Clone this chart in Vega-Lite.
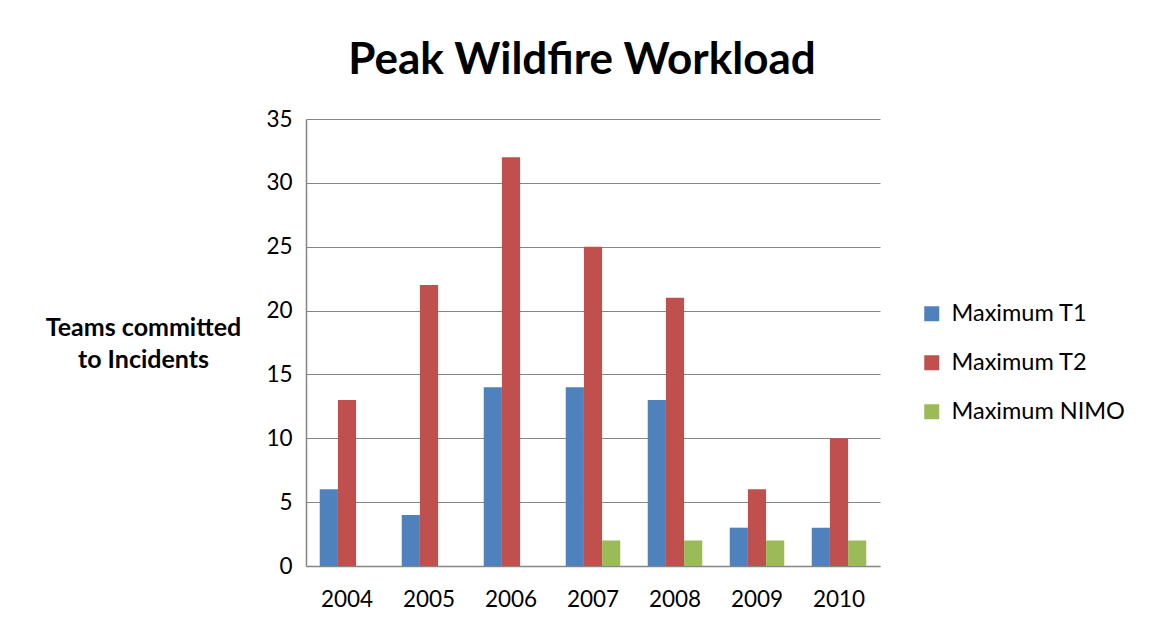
{
  "$schema": "https://vega.github.io/schema/vega-lite/v6.json",
  "autosize": "none",
  "width": 574,
  "height": 447,
  "padding": {"left": 306, "top": 119, "right": 271, "bottom": 64},
  "background": "white",
  "config": {
    "font": "Lato",
    "view": {"stroke": null},
    "axis": {"labelColor": "#000000", "titleColor": "#000000"}
  },
  "title": {
    "text": "Peak Wildfire Workload",
    "fontSize": 44,
    "fontWeight": "bold",
    "color": "#000000",
    "anchor": "middle",
    "dx": -11,
    "offset": 25
  },
  "data": {
    "values": [
      {"year": "2004", "series": "Maximum T1", "teams": 6},
      {"year": "2004", "series": "Maximum T2", "teams": 13},
      {"year": "2004", "series": "Maximum NIMO", "teams": 0},
      {"year": "2005", "series": "Maximum T1", "teams": 4},
      {"year": "2005", "series": "Maximum T2", "teams": 22},
      {"year": "2005", "series": "Maximum NIMO", "teams": 0},
      {"year": "2006", "series": "Maximum T1", "teams": 14},
      {"year": "2006", "series": "Maximum T2", "teams": 32},
      {"year": "2006", "series": "Maximum NIMO", "teams": 0},
      {"year": "2007", "series": "Maximum T1", "teams": 14},
      {"year": "2007", "series": "Maximum T2", "teams": 25},
      {"year": "2007", "series": "Maximum NIMO", "teams": 2},
      {"year": "2008", "series": "Maximum T1", "teams": 13},
      {"year": "2008", "series": "Maximum T2", "teams": 21},
      {"year": "2008", "series": "Maximum NIMO", "teams": 2},
      {"year": "2009", "series": "Maximum T1", "teams": 3},
      {"year": "2009", "series": "Maximum T2", "teams": 6},
      {"year": "2009", "series": "Maximum NIMO", "teams": 2},
      {"year": "2010", "series": "Maximum T1", "teams": 3},
      {"year": "2010", "series": "Maximum T2", "teams": 10},
      {"year": "2010", "series": "Maximum NIMO", "teams": 2}
    ]
  },
  "mark": {"type": "bar"},
  "encoding": {
    "x": {
      "field": "year",
      "type": "nominal",
      "scale": {"paddingInner": 0.335, "paddingOuter": 0.1675},
      "axis": {
        "title": null,
        "labelAngle": 0,
        "labelFontSize": 22.5,
        "labelPadding": 22,
        "ticks": false,
        "domainColor": "#868686",
        "domainWidth": 1.5
      }
    },
    "xOffset": {
      "field": "series",
      "type": "nominal",
      "sort": ["Maximum T1", "Maximum T2", "Maximum NIMO"],
      "scale": {"paddingInner": 0, "paddingOuter": 0}
    },
    "y": {
      "field": "teams",
      "type": "quantitative",
      "scale": {"domain": [0, 35], "nice": false},
      "axis": {
        "values": [0, 5, 10, 15, 20, 25, 30, 35],
        "title": ["Teams committed", "to Incidents"],
        "titleAngle": 0,
        "titleFontSize": 25,
        "titleFontWeight": "bold",
        "titleLineHeight": 32,
        "titleAlign": "center",
        "titleBaseline": "middle",
        "titleX": -163,
        "titleY": 208,
        "labelFontSize": 22.5,
        "labelPadding": 14,
        "ticks": false,
        "grid": true,
        "gridColor": "#868686",
        "gridWidth": 1.2,
        "domainColor": "#868686",
        "domainWidth": 1.5
      }
    },
    "color": {
      "field": "series",
      "type": "nominal",
      "sort": ["Maximum T1", "Maximum T2", "Maximum NIMO"],
      "scale": {
        "domain": ["Maximum T1", "Maximum T2", "Maximum NIMO"],
        "range": ["#4F81BD", "#C0504D", "#9BBB59"]
      },
      "legend": {
        "title": null,
        "orient": "none",
        "legendX": 614,
        "legendY": 183,
        "symbolType": "square",
        "symbolSize": 225,
        "symbolStrokeWidth": 0,
        "labelFontSize": 23.5,
        "labelLimit": 400,
        "labelColor": "#000000",
        "labelOffset": 8,
        "rowPadding": 24
      }
    }
  }
}
